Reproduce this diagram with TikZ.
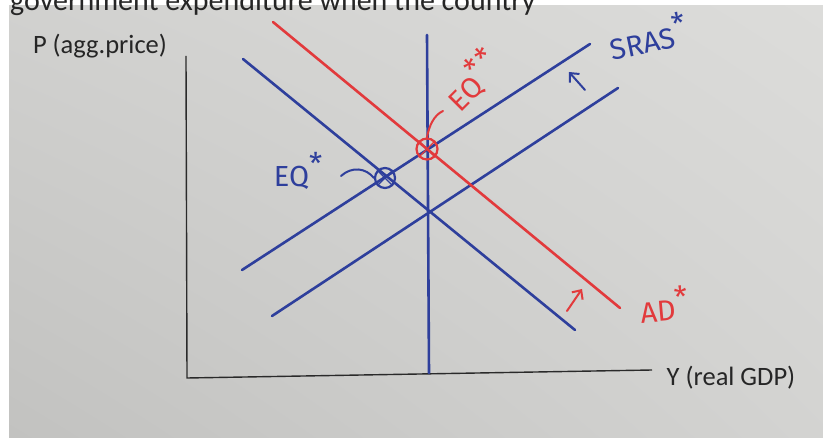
\documentclass[tikz,border=0pt]{standalone}
\usepackage{fontspec}
\setmainfont{Carlito}
\newfontfamily\hand{Fira Sans}
\usetikzlibrary{arrows.meta,shadings}
\definecolor{ink}{HTML}{2E3F9C}
\definecolor{redink}{HTML}{E23A3C}
\definecolor{paperA}{HTML}{C2C2C0}
\definecolor{paperB}{HTML}{DCDCDA}
\definecolor{axisc}{HTML}{2A2A2A}
\newcommand{\handstar}{\raisebox{12pt}{\fontsize{30}{30}\selectfont *}}
\tikzset{
  blueline/.style={ink, line width=2.6pt, line cap=round},
  redline/.style={redink, line width=2.6pt, line cap=round},
  axisline/.style={axisc, line width=1.4pt},
  eqcirc/.style={circle, draw, line width=2.2pt, inner sep=0pt},
  printed/.style={font=\fontsize{26.5}{26.5}\selectfont, text=black!85, inner sep=0pt},
  handlbl/.style={font=\hand\fontsize{29}{29}\selectfont, inner sep=0pt},
  shiftarrow/.style={line width=2pt, line cap=round, -{Straight Barb[length=7pt,width=13pt,line width=2pt]}}
}
\begin{document}
\begin{tikzpicture}[x=1pt,y=-1pt]
\useasboundingbox (0,0) rectangle (823,438);
\fill[white] (0,0) rectangle (823,438);
\shade[lower left=paperA, upper right=paperB, lower right=paperB!96!black, upper left=paperB!95!black] (9,6) rectangle (823,438);
\begin{scope}
\clip (0,0) rectangle (823,438);
\node[anchor=base west, font=\fontsize{30}{30}\selectfont, text=black!85, inner sep=0pt] (toptext) at (10,11) {government expenditure when the country};
\end{scope}

% axes
\coordinate (ytop) at (186,56);
\coordinate (orig) at (187,378);
\coordinate (xend) at (652,370);
\draw[axisline] (ytop) -- (orig) -- (xend);
\node[printed] (plab) at (100,46) {P (agg.price)};
\node[printed] (ylab) at (731,378) {Y (real GDP)};

% curves
\coordinate (lrasT) at (427,35);
\coordinate (lrasB) at (429,373);
\coordinate (adT) at (243,59);
\coordinate (adB) at (575,330);
\coordinate (srasL) at (272,316);
\coordinate (srasR) at (618,88);
\coordinate (sras2L) at (242,270);
\coordinate (sras2R) at (590,44);
\coordinate (ad2T) at (273,22);
\coordinate (ad2B) at (620,308);

\draw[blueline] (lrasT) -- (lrasB);
\draw[blueline] (adT) -- (adB);
\draw[blueline] (srasL) -- (srasR);
\draw[blueline] (sras2L) -- (sras2R);
\draw[redline] (ad2T) -- (ad2B);

% equilibria
\node[eqcirc, draw=ink, minimum size=20pt] (eq1) at (385,178) {};
\node[eqcirc, draw=redink, minimum size=21pt] (eq2) at (427,149) {};
\draw[ink, line width=1.2pt] (eq1.north west) -- (eq1.south east);
\draw[ink, line width=1.2pt] (eq1.north east) -- (eq1.south west);
\draw[redink, line width=1.2pt] (eq2.north west) -- (eq2.south east);
\draw[redink, line width=1.2pt] (eq2.north east) -- (eq2.south west);

% labels
\node[handlbl, text=ink] (eqlab) at (298,171) {EQ\handstar};
\coordinate (eqlabend) at (341,176);
\draw[ink, line width=2pt, line cap=round] (eqlabend) .. controls (352,166) and (366,168) .. (eq1.west);

\node[handlbl, text=redink, rotate=45] (eq2lab) at (472,80) {EQ\handstar\kern2pt\handstar};
\coordinate (eq2labend) at (443,111);
\draw[redink, line width=2pt, line cap=round] (eq2.north) .. controls (429,126) and (434,115) .. (eq2labend);

\node[handlbl, text=ink, rotate=12] (sraslab) at (648,36) {SRAS\handstar};
\node[handlbl, text=redink, rotate=5] (adlab) at (664,304) {AD\handstar};

% shift arrows
\coordinate (ua1) at (585,90);
\coordinate (ua2) at (569,72);
\draw[shiftarrow, ink] (ua1) -- (ua2);
\coordinate (ra1) at (567,311);
\coordinate (ra2) at (582,289);
\draw[shiftarrow, redink] (ra1) -- (ra2);
\end{tikzpicture}
\end{document}
